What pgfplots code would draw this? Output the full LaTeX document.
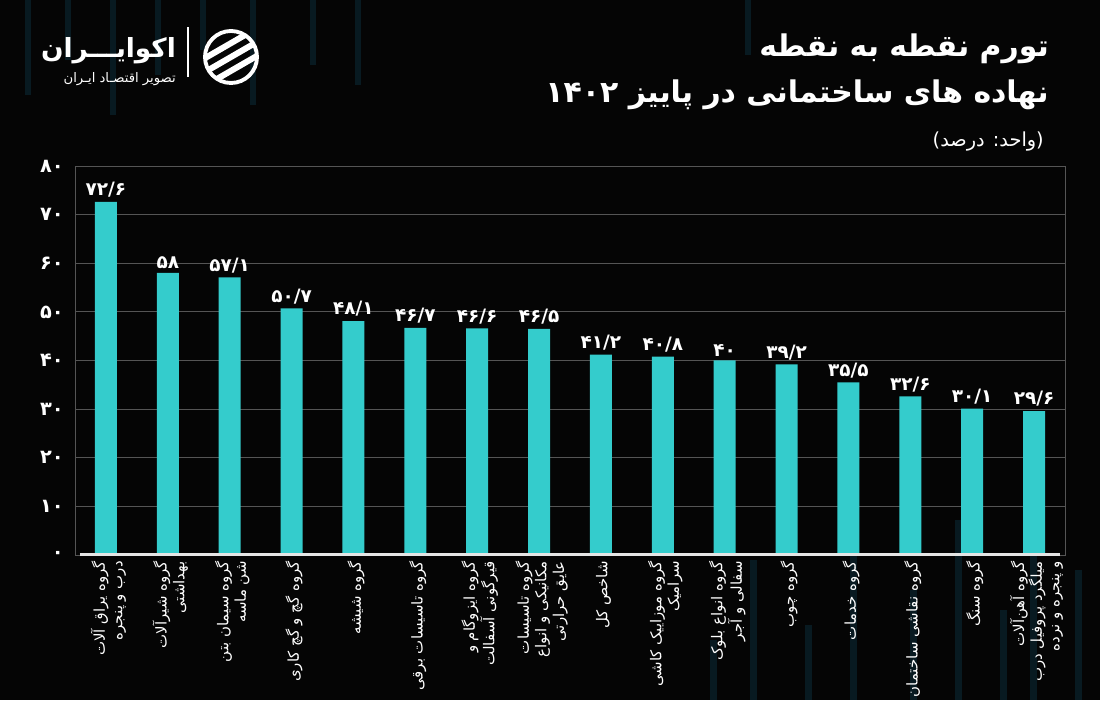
\documentclass[border=0pt]{standalone}
\usepackage{fontspec}
\setmainfont{DejaVu Sans}
\newfontfamily\arabicfont[Script=Arabic]{DejaVu Sans}
\TeXXeTstate=1
\usepackage{pgfplots}
\pgfplotsset{compat=1.18}
\definecolor{bg}{RGB}{5,5,5}
\definecolor{barc}{RGB}{52,204,204}
\definecolor{gridc}{RGB}{85,85,85}
\definecolor{stripe}{RGB}{8,26,33}

\begin{document}
\begin{tikzpicture}[x=1cm,y=1cm]
\useasboundingbox (0,0) rectangle (22,14);
\fill[bg] (0,0) rectangle (22,14);

% faint background stripes
\foreach \x/\l in {0.5/1.9,1.3/1.2,2.2/2.3,3.1/1.5,4.0/1.0,5.0/2.1,6.2/1.3,7.1/1.7,14.9/1.1}
  \fill[stripe] (\x,14) rectangle (\x+0.12,14-\l);
\foreach \x/\l in {14.2/1.2,15.0/2.8,16.1/1.5,17.0/3.1,18.2/2.2,19.1/3.6,20.0/1.8,20.6/4.3,21.5/2.6}
  \fill[stripe] (\x,0) rectangle (\x+0.14,\l);

% logo
\node[anchor=base east, text=white, font=\arabicfont\bfseries\fontsize{15}{18}\selectfont] at (3.64,12.85) {\arabicfont\beginR اکوایـــران\endR};
\node[anchor=base east, text=white, font=\arabicfont\fontsize{7.5}{9}\selectfont] at (3.64,12.35) {\arabicfont\beginR تصویر اقتصـاد ایـران\endR};
\draw[white, line width=0.6pt] (3.76,12.46) -- (3.76,13.46);
\begin{scope}[shift={(4.62,12.86)}]
  \draw[white, line width=2.2pt] (0,0) circle (0.52);
  \clip (0,0) circle (0.5);
  \foreach \d in {-0.24,0,0.24}
    \fill[white, rotate=30] (-0.7,\d-0.06) rectangle (0.7,\d+0.06);
\end{scope}

% title
\node[anchor=base east, text=white, font=\arabicfont\bfseries\fontsize{17}{20}\selectfont] at (21.1,12.86) {\arabicfont\beginR تورم نقطه به نقطه\endR};
\node[anchor=base east, text=white, font=\arabicfont\bfseries\fontsize{17}{20}\selectfont] at (21.1,11.94) {\arabicfont\beginR نهاده های ساختمانی در پاییز \beginL ۱۴۰۲\endL{}\endR};
\node[anchor=base east, text=white, font=\arabicfont\fontsize{11}{13}\selectfont] at (21.0,11.06) {\arabicfont\beginR (واحد: درصد)\endR};

\begin{axis}[
  at={(1.5cm,2.9cm)}, anchor=south west,
  scale only axis, width=19.8cm, height=7.78cm,
  xmin=-0.5, xmax=15.5, ymin=0, ymax=80,
  axis line style={gridc, line width=0.5pt},
  ymajorgrids, grid style={gridc, line width=0.5pt},
  major tick length=0pt,
  ytick={0,10,...,80},
  yticklabels={۰,۱۰,۲۰,۳۰,۴۰,۵۰,۶۰,۷۰,۸۰},
  yticklabel style={text=white, font=\arabicfont\bfseries\fontsize{11}{13}\selectfont, xshift=-0.1cm},
  xtick={0,...,15},
  xticklabels={
    {\beginR گروه یراق آلات\endR\\\beginR درب و پنجره\endR},
    {\beginR گروه شیرآلات\endR\\\beginR بهداشتی\endR},
    {\beginR گروه سیمان بتن\endR\\\beginR شن ماسه\endR},
    {\beginR گروه گچ و گچ کاری\endR},
    {\beginR گروه شیشه\endR},
    {\beginR گروه تاسیسات برقی\endR},
    {\beginR گروه ایزوگام و\endR\\\beginR قیرگونی آسفالت\endR},
    {\beginR گروه تاسیسات\endR\\\beginR مکانیکی و انواع\endR\\\beginR عایق حرارتی\endR},
    {\beginR شاخص کل\endR},
    {\beginR گروه موزاییک کاشی\endR\\\beginR سرامیک\endR},
    {\beginR گروه انواع بلوک\endR\\\beginR سفالی و آجر\endR},
    {\beginR گروه چوب\endR},
    {\beginR گروه خدمات\endR},
    {\beginR گروه نقاشی ساختمان\endR},
    {\beginR گروه سنگ\endR},
    {\beginR گروه آهن‌آلات\endR\\\beginR میلگرد پروفیل درب\endR\\\beginR و پنجره و نرده\endR}
  },
  xticklabel style={rotate=90, anchor=east, align=right, text=white,
    font=\arabicfont\fontsize{8.5}{10}\selectfont, yshift=-0.05cm},
  point meta=explicit symbolic,
  nodes near coords={\pgfplotspointmeta},
  nodes near coords style={text=white, font=\arabicfont\bfseries\fontsize{10.5}{12}\selectfont, anchor=south, yshift=-1pt},
]
\addplot[ybar, bar width=0.44cm, fill=barc, draw=none] coordinates {
  (0,72.6) [۷۲/۶]
  (1,58) [۵۸]
  (2,57.1) [۵۷/۱]
  (3,50.7) [۵۰/۷]
  (4,48.1) [۴۸/۱]
  (5,46.7) [۴۶/۷]
  (6,46.6) [۴۶/۶]
  (7,46.5) [۴۶/۵]
  (8,41.2) [۴۱/۲]
  (9,40.8) [۴۰/۸]
  (10,40) [۴۰]
  (11,39.2) [۳۹/۲]
  (12,35.5) [۳۵/۵]
  (13,32.6) [۳۲/۶]
  (14,30.1) [۳۰/۱]
  (15,29.6) [۲۹/۶]
};
\draw[white!80!gray, line width=2pt] (rel axis cs:0.005,0) -- (rel axis cs:0.995,0);
\end{axis}
\end{tikzpicture}
\end{document}
